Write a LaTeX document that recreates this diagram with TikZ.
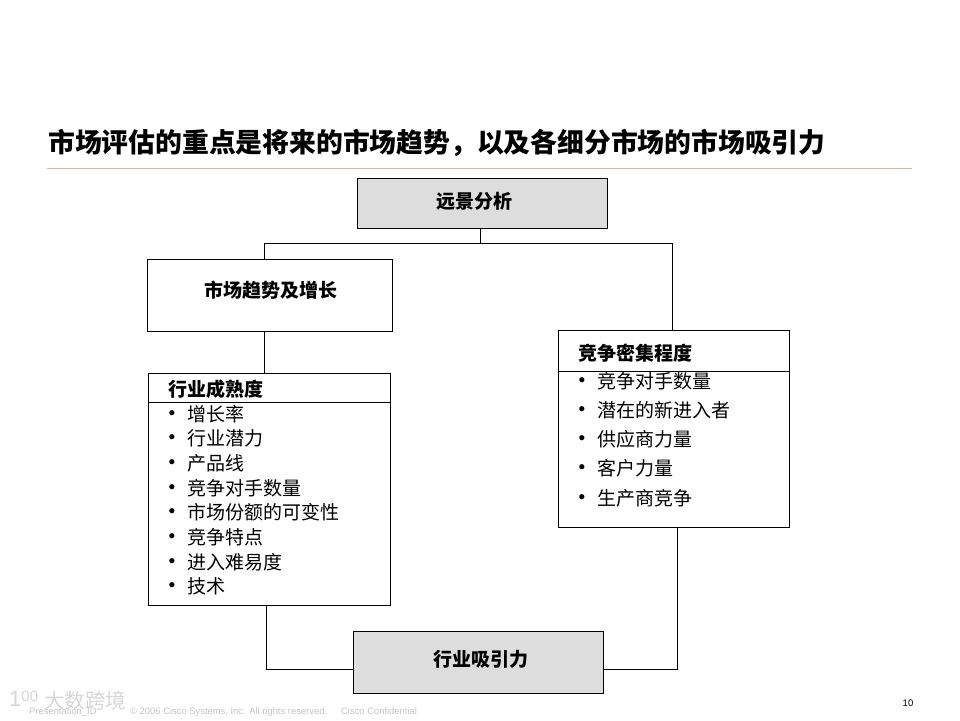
\documentclass[tikz,border=0pt]{standalone}
\usepackage{fontspec}
\setmainfont{Liberation Sans}
\newfontfamily\cjk{Noto Sans CJK SC}
\usetikzlibrary{positioning}
\definecolor{boxgray}{HTML}{DDDDDD}
\definecolor{rulegold}{HTML}{D2BD92}
\definecolor{footgray}{HTML}{C4C4C4}
\tikzset{every box/.style={draw=black,line width=1pt,anchor=north west,inner sep=0pt}}
\tikzset{headtext/.style={font=\cjk\bfseries\fontsize{19}{19}\selectfont,inner sep=0pt,text=black}}
\tikzset{itemtext/.style={font=\cjk\fontsize{19}{19}\selectfont,inner sep=0pt,anchor=west,text=black}}
\tikzset{bulletdot/.style={font=\fontsize{19}{19}\selectfont,inner sep=0pt,text=black}}
\tikzset{foottext/.style={font=\fontsize{9.4}{9.4}\selectfont,inner sep=0pt,anchor=base west,text=footgray}}
\tikzset{link/.style={draw=black,line width=0.9pt}}

\begin{document}
\begin{tikzpicture}[x=1pt,y=-1pt]
          \useasboundingbox (0,0) rectangle (960,720);
          \node[font=\cjk\bfseries\fontsize{26.8}{27}\selectfont,inner sep=0pt,anchor=west] (title) at (48,143)
               {市场评估的重点是将来的市场趋势，以及各细分市场的市场吸引力};
          \draw[rulegold,line width=1pt] (47,168) coordinate (rulel) -- (912,168) coordinate (ruler);
          % boxes
          \node[every box,fill=boxgray,minimum width=250pt,minimum height=50pt] (vision) at (356.5,177.5) {};
          \node[every box,minimum width=245pt,minimum height=72pt] (market) at (146.5,258.5) {};
          \node[every box,minimum width=242pt,minimum height=232pt] (mature) at (147.5,372.5) {};
          \node[every box,minimum width=231pt,minimum height=197pt] (compete) at (557.5,329.5) {};
          \node[every box,fill=boxgray,minimum width=250pt,minimum height=62pt] (attract) at (352.5,630.5) {};
          % header rules
          \draw[link] (mature.west |- 0,402.5) coordinate (ml) -- (mature.east |- 0,402.5) coordinate (mr);
          \draw[link] (compete.west |- 0,371.5) coordinate (cl) -- (compete.east |- 0,371.5) coordinate (cr);
          % headings
          \node[headtext] (visiontext) at (474.5,201) {远景分析};
          \node[headtext] (markettext) at (270.5,290) {市场趋势及增长};
          \node[headtext,anchor=west] (maturetext) at (168,389) {行业成熟度};
          \node[headtext,anchor=west] (competetext) at (578,353) {竞争密集程度};
          \node[headtext] (attracttext) at (480.5,659) {行业吸引力};
          % lists
          \foreach \n/\y/\txt in {1/414.5/增长率,2/438.5/行业潜力,3/463.5/产品线,4/488.5/竞争对手数量,
                                  5/512.5/市场份额的可变性,6/537.5/竞争特点,7/562.5/进入难易度,8/586.5/技术} {
            \node[bulletdot] (mb\n) at (172,\y+1) {•};
            \node[itemtext] (mi\n) at (187,\y) {\txt};
          }
          \foreach \n/\y/\txt in {1/381.5/竞争对手数量,2/410.5/潜在的新进入者,3/439.5/供应商力量,
                                  4/468.5/客户力量,5/498.5/生产商竞争} {
            \node[bulletdot] (cb\n) at (582,\y+1) {•};
            \node[itemtext] (ci\n) at (597,\y) {\txt};
          }
          % connectors
          \coordinate (busc) at (480,243.5);
          \coordinate (busl) at (264.5,243.5);
          \coordinate (busr) at (672.5,243.5);
          \draw[link] (vision.south -| busc) -- (busc);
          \draw[link] (market.north -| busl) -- (busl) -- (busr) -- (compete.north -| busr);
          \draw[link] (market.south -| busl) -- (mature.north -| busl);
          \coordinate (lowl) at (266.5,669.5);
          \coordinate (lowr) at (677.5,669.5);
          \draw[link] (mature.south -| lowl) -- (lowl) -- (attract.west |- lowl);
          \draw[link] (compete.south -| lowr) -- (lowr) -- (attract.east |- lowr);
          % footer
          \node[foottext] (present) at (29,714) {Presentation\_ID};
          \node[foottext] (copy) at (130,714) {© 2006 Cisco Systems, Inc. All rights reserved.};
          \node[foottext] (conf) at (341,714) {Cisco Confidential};
          \node[font=\fontsize{9.5}{9.5}\selectfont,inner sep=0pt] (pagenum) at (908,703) {10};
          % watermark
          \node[font=\fontsize{22}{22}\selectfont,inner sep=0pt,text=footgray!70,anchor=west] (logo) at (9,699) {1\raisebox{5pt}{\fontsize{15}{15}\selectfont 00}};
          \node[font=\cjk\fontsize{20.5}{21}\selectfont,inner sep=0pt,text=footgray!70,anchor=west] (mark) at (44,701) {大数跨境};
        \end{tikzpicture}
\end{document}
